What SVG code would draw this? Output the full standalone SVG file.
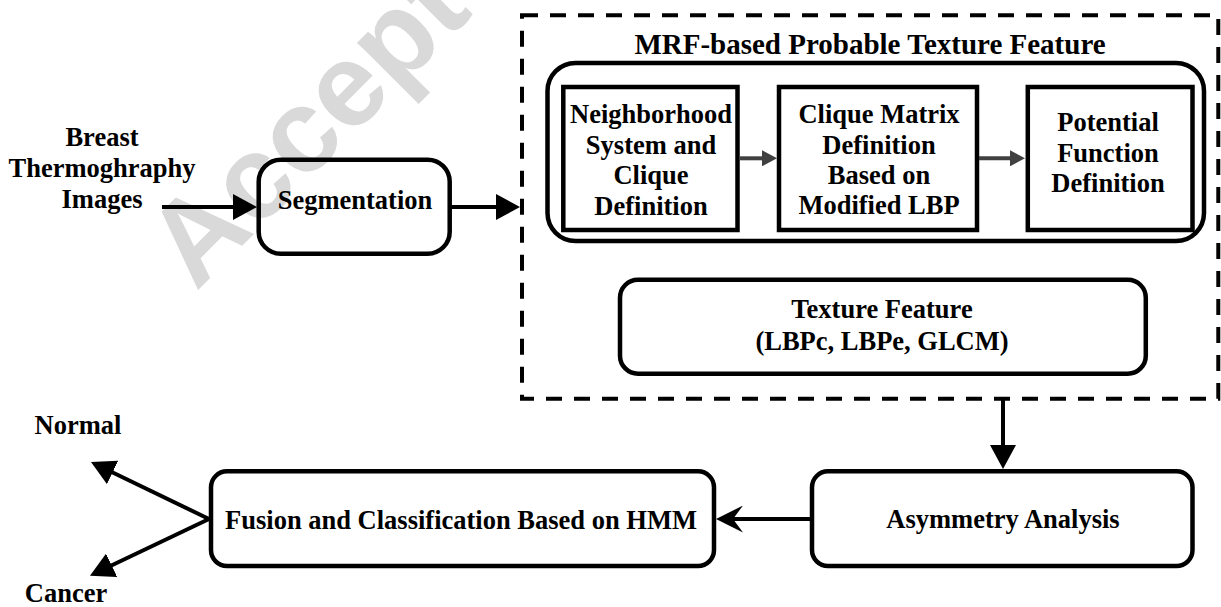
<svg xmlns="http://www.w3.org/2000/svg" width="1221" height="607" viewBox="0 0 1221 607">
  <defs>
    <style>
      .t { font-family: "Liberation Serif", "Times New Roman", serif; font-weight: bold; font-size: 26.5px; fill: #000; text-anchor: middle; }
      .title { font-size: 29px; }
      .box { fill: none; stroke: #000; stroke-width: 4.5; }
      .conn { fill: none; stroke: #000; stroke-width: 4; }
      .gconn { fill: none; stroke: #404040; stroke-width: 4; }
      .dash { fill: none; stroke: #000; stroke-width: 4; stroke-dasharray: 16 12; }
      .wm { font-family: "Liberation Sans", Arial, sans-serif; font-weight: bold; font-size: 118px; fill: #d9d9d9; }
    </style>
    <marker id="ah" markerUnits="userSpaceOnUse" markerWidth="24" markerHeight="26" refX="16" refY="13" orient="auto">
      <path d="M0,0 L24,13 L0,26 Z" fill="#000"/>
    </marker>
    <marker id="gah" markerUnits="userSpaceOnUse" markerWidth="15" markerHeight="16" refX="9" refY="8" orient="auto">
      <path d="M0,0 L15,8 L0,16 Z" fill="#404040"/>
    </marker>
    <marker id="sah" markerUnits="userSpaceOnUse" markerWidth="27" markerHeight="27" refX="15" refY="13.5" orient="auto">
      <path d="M0,0 L27,13.5 L0,27 L10,13.5 Z" fill="#000"/>
    </marker>
  </defs>
  <rect width="1221" height="607" fill="#fff"/>

  <!-- watermark -->
  <text class="wm" x="196" y="292" transform="rotate(-45 196 292)">Accept</text>

  <g id="input-label">
    <text class="t" x="102" y="146">Breast</text>
    <text class="t" x="102" y="177">Thermoghraphy</text>
    <text class="t" x="102" y="208">Images</text>
  </g>

  <g id="segmentation">
    <rect class="box" x="258.7" y="159.7" width="191" height="94" rx="22"/>
    <text class="t" x="355" y="209">Segmentation</text>
  </g>

  <g id="mrf-group">
    <rect class="dash" x="522" y="15.3" width="696.3" height="383.4"/>
    <text class="t title" x="870" y="54">MRF-based Probable Texture Feature</text>
  </g>

  <g id="mrf-inner">
    <rect class="box" x="547.5" y="63" width="656.5" height="178" rx="28"/>
  </g>

  <g id="neighborhood">
    <rect class="box" x="563.3" y="87" width="174.2" height="143"/>
    <text class="t" x="651" y="123">Neighborhood</text>
    <text class="t" x="651" y="154">System and</text>
    <text class="t" x="651" y="184">Clique</text>
    <text class="t" x="651" y="215">Definition</text>
  </g>

  <g id="clique-matrix">
    <rect class="box" x="779" y="87" width="198" height="143"/>
    <text class="t" x="879" y="123">Clique Matrix</text>
    <text class="t" x="879" y="154">Definition</text>
    <text class="t" x="879" y="184">Based on</text>
    <text class="t" x="879" y="214">Modified LBP</text>
  </g>

  <g id="potential">
    <rect class="box" x="1027.8" y="87" width="164.7" height="143"/>
    <text class="t" x="1108" y="131">Potential</text>
    <text class="t" x="1108" y="162">Function</text>
    <text class="t" x="1108" y="192">Definition</text>
  </g>

  <g id="texture-feature">
    <rect class="box" x="620" y="279.7" width="525.8" height="94" rx="18"/>
    <text class="t" x="882" y="318">Texture Feature</text>
    <text class="t" x="882" y="350">(LBPc, LBPe, GLCM)</text>
  </g>

  <g id="asymmetry">
    <rect class="box" x="812" y="471.3" width="380.5" height="94.7" rx="16"/>
    <text class="t" x="1003" y="528">Asymmetry Analysis</text>
  </g>

  <g id="fusion">
    <rect class="box" x="211" y="471.3" width="503" height="94.7" rx="16"/>
    <text class="t" x="461" y="529">Fusion and Classification Based on HMM</text>
  </g>

  <g id="normal">
    <text class="t" x="78" y="434">Normal</text>
  </g>
  <g id="cancer">
    <text class="t" x="66" y="602">Cancer</text>
  </g>

  <g id="connectors">
    <line class="conn" x1="162" y1="207" x2="249" y2="207" marker-end="url(#ah)"/>
    <line class="conn" x1="451" y1="207" x2="512" y2="207" marker-end="url(#ah)"/>
    <line class="gconn" x1="739" y1="158.3" x2="771" y2="158.3" marker-end="url(#gah)"/>
    <line class="gconn" x1="979" y1="158.3" x2="1019" y2="158.3" marker-end="url(#gah)"/>
    <line class="conn" x1="1003" y1="398" x2="1003" y2="461" marker-end="url(#ah)"/>
    <line class="conn" x1="810" y1="519" x2="728" y2="519" marker-end="url(#sah)"/>
    <line class="conn" x1="209" y1="519" x2="98.2" y2="465.5" marker-end="url(#ah)"/>
    <line class="conn" x1="209" y1="519" x2="97.2" y2="572.2" marker-end="url(#ah)"/>
  </g>
</svg>
